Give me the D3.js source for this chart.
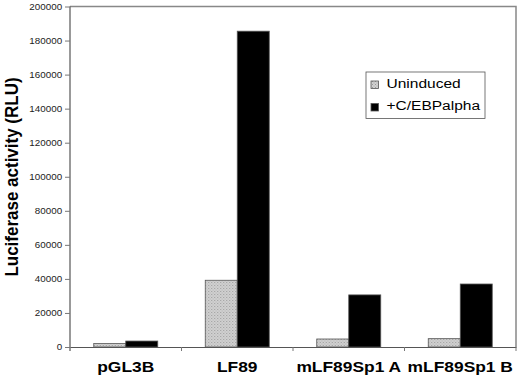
<!DOCTYPE html>
<html>
<head>
<meta charset="utf-8">
<script src="https://cdn.jsdelivr.net/npm/d3@7"></script>
<style>
  body { margin: 0; background: #fff; }
  text { font-family: Arial, "Liberation Sans", sans-serif; }
</style>
</head>
<body>
<script>
var categories = ["pGL3B", "LF89", "mLF89Sp1 A", "mLF89Sp1 B"];
var seriesNames = ["Uninduced", "+C/EBPalpha"];
var uninduced = [2000, 39200, 4700, 4900];
var induced = [3500, 185500, 30600, 37000];
var yTicks = [0, 20000, 40000, 60000, 80000, 100000, 120000, 140000, 160000, 180000, 200000];

var width = 520, height = 380;
var margin = { top: 6.5, right: 4, bottom: 33, left: 70 };
var stretch = 1.13; // the original figure is a bit wider than tall
var colors = ["url(#stipple)", "#000000"];

var svg = d3.select("body").append("svg")
    .attr("width", width)
    .attr("height", height);

// light grey stipple used for the uninduced bars
var pat = svg.append("defs").append("pattern")
    .attr("id", "stipple")
    .attr("width", 3).attr("height", 3)
    .attr("patternUnits", "userSpaceOnUse");
pat.append("rect").attr("width", 3).attr("height", 3).attr("fill", "#d2d2d2");
pat.append("rect").attr("width", 1).attr("height", 1).attr("fill", "#9a9a9a");
pat.append("rect").attr("x", 1.5).attr("y", 1.5).attr("width", 1).attr("height", 1).attr("fill", "#a8a8a8");

var x = d3.scaleBand()
    .domain(categories)
    .range([margin.left, width - margin.right]);

var inner = d3.scaleBand()
    .domain(seriesNames)
    .range([0, 64]);

var y = d3.scaleLinear()
    .domain([0, 200000])
    .range([height - margin.bottom, margin.top]);

// plot frame (top and right)
svg.append("path")
    .attr("d", `M${margin.left},${margin.top}H${width - margin.right}V${height - margin.bottom}`)
    .attr("fill", "none")
    .attr("stroke", "#888")
    .attr("stroke-width", 1.5);

// y axis
var yAxis = svg.append("g")
    .attr("transform", `translate(${margin.left},0)`)
    .call(d3.axisLeft(y).tickValues(yTicks).tickSize(5).tickPadding(2).tickFormat(d3.format("d")));
yAxis.select(".domain").attr("stroke", "#555").attr("stroke-width", 1.2).attr("d", `M0,${margin.top}V${height - margin.bottom + 4}`);
yAxis.selectAll(".tick line").attr("stroke", "#777");
yAxis.selectAll("text")
    .attr("font-size", 8.7)
    .attr("fill", "#222")
    .attr("transform", `scale(${stretch},1)`);

// x axis
var xAxis = svg.append("g")
    .attr("transform", `translate(0,${height - margin.bottom})`)
    .call(d3.axisBottom(x).tickSize(0).tickPadding(14));
xAxis.select(".domain").attr("stroke", "#555").attr("stroke-width", 1.2);
xAxis.selectAll(".tick text")
    .attr("font-size", 15.4)
    .attr("font-weight", "bold")
    .attr("fill", "#000")
    .attr("transform", `scale(${stretch},1)`);
// band boundary ticks
xAxis.selectAll(".bound")
    .data(categories)
    .enter().append("line")
    .attr("class", "bound")
    .attr("x1", d => x(d) + x.bandwidth())
    .attr("x2", d => x(d) + x.bandwidth())
    .attr("y1", 0).attr("y2", 4)
    .attr("stroke", "#777");

// bars
var groups = svg.selectAll(".group")
    .data(categories)
    .enter().append("g")
    .attr("class", "group")
    .attr("transform", d => `translate(${x(d) + (x.bandwidth() - 64) / 2},0)`);

groups.selectAll("rect")
    .data((d, i) => [
      { key: seriesNames[0], value: uninduced[i] },
      { key: seriesNames[1], value: induced[i] }
    ])
    .enter().append("rect")
    .attr("x", d => inner(d.key))
    .attr("width", inner.bandwidth())
    .attr("y", d => y(d.value))
    .attr("height", d => y(0) - y(d.value))
    .attr("fill", (d, i) => colors[i])
    .attr("stroke", "#555")
    .attr("stroke-width", 0.8);

// y title
svg.append("text")
    .attr("transform", `translate(18,177) scale(${stretch},1) rotate(-90)`)
    .attr("text-anchor", "middle")
    .attr("font-size", 17)
    .attr("font-weight", "bold")
    .text("Luciferase activity (RLU)");

// legend
var legend = svg.append("g").attr("transform", "translate(366,72)");
legend.append("rect")
    .attr("width", 119).attr("height", 46.5)
    .attr("fill", "#fff")
    .attr("stroke", "#555")
    .attr("stroke-width", 0.8);
seriesNames.forEach(function(name, i) {
  legend.append("rect")
      .attr("x", 5).attr("y", 9 + i * 22.5)
      .attr("width", 7.5).attr("height", 7.5)
      .attr("fill", colors[i])
      .attr("stroke", "#555")
      .attr("stroke-width", 0.8);
  legend.append("text")
      .attr("transform", `translate(20.5,${16.3 + i * 22}) scale(1.15,1)`)
      .attr("font-size", 13.5)
      .text(name);
});
</script>
</body>
</html>
